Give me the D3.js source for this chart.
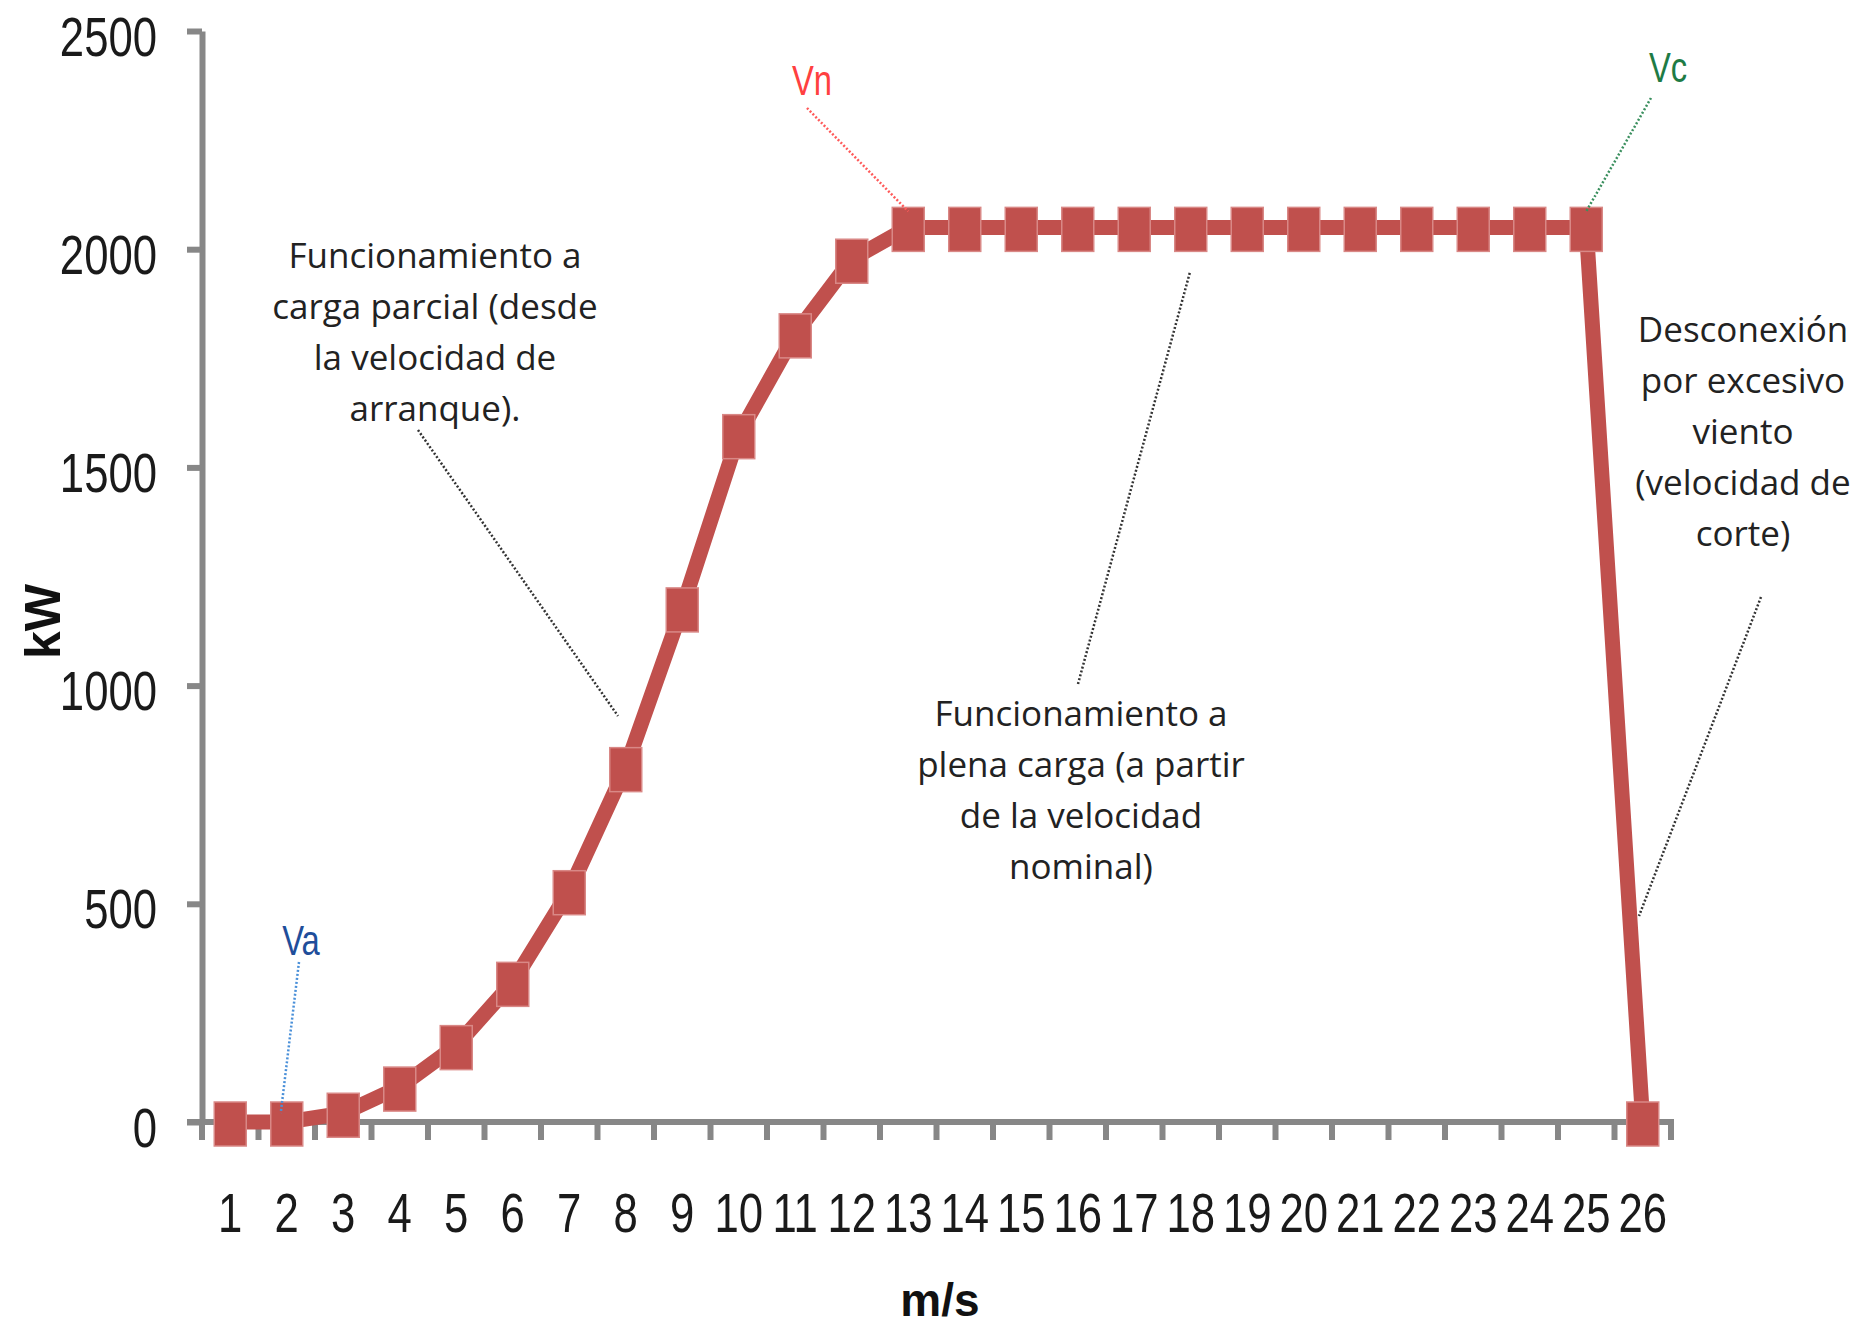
<!DOCTYPE html>
<html>
<head>
<meta charset="utf-8">
<script src="https://cdn.jsdelivr.net/npm/d3@7"></script>
<style>
  html, body { margin: 0; padding: 0; background: #fff; }
  svg { display: block; }
</style>
</head>
<body>
<svg id="chart" width="1872" height="1326"></svg>
<script>
// ---- data ----
const categories = ["1","2","3","4","5","6","7","8","9","10","11","12","13","14","15","16","17","18","19","20","21","22","23","24","25","26"];
const powerKW = [0,0,20,80,175,320,530,812,1178,1575,1806,1977,2050,2050,2050,2050,2050,2050,2050,2050,2050,2050,2050,2050,2050,0];
const yTicks = [0,500,1000,1500,2000,2500];
const xTitle = "m/s";
const yTitle = "kW";
const markerLabels = [
  {text:"Va", cat:"2", value:0, color:"#1f4e9a", lead:"#4a90d9"},
  {text:"Vn", cat:"13", value:2050, color:"#ff4040", lead:"#ff5a5a"},
  {text:"Vc", cat:"25", value:2050, color:"#1e7b45", lead:"#3a8f5e"}
];
const notes = [
  {lines:["Funcionamiento a","carga parcial (desde","la velocidad de","arranque)."]},
  {lines:["Funcionamiento a","plena carga (a partir","de la velocidad","nominal)"]},
  {lines:["Desconexión","por excesivo","viento","(velocidad de","corte)"]}
];

(function(){
// ---- layout ----
const svg = d3.select("#chart");
const pLeft = 202, pRight = 1671, pTop = 31, pBottom = 1122;
const x = d3.scaleBand().domain(categories).range([pLeft, pRight]).padding(0);
const y = d3.scaleLinear().domain([0, 2500]).range([pBottom, pTop]);
const axisColor = "#878787";
const lineColor = "#c0504d";
const sx = 0.78;

// y axis
const gy = svg.append("g").attr("transform", `translate(${pLeft},0)`)
  .call(d3.axisLeft(y).tickValues(yTicks).tickFormat(d3.format("d"))
    .tickSizeInner(15).tickSizeOuter(0).tickPadding(0));
gy.select(".domain").attr("stroke", axisColor).attr("stroke-width", 6);
gy.selectAll(".tick line").attr("stroke", axisColor).attr("stroke-width", 6);
gy.selectAll(".tick text")
  .attr("fill", "#1a1a1a")
  .style("font-family", "'Liberation Sans', Arial, sans-serif")
  .style("font-size", "56px")
  .attr("text-anchor", "end")
  .attr("dy", null)
  .attr("x", -45 / sx)
  .attr("y", 24)
  .attr("transform", `scale(${sx},1)`);

// x axis (labels at band centres)
const gx = svg.append("g").attr("transform", `translate(0,${pBottom})`)
  .call(d3.axisBottom(x).tickSizeInner(0).tickSizeOuter(0).tickPadding(0));
gx.select(".domain").attr("stroke", axisColor).attr("stroke-width", 6)
  .attr("d", `M${pLeft - 15},0H${pRight + 3}`);
gx.selectAll(".tick line").remove();
gx.selectAll(".tick").each(function(d){
  const g = d3.select(this);
  const tx = x(d) + x.bandwidth()/2;
  g.attr("transform", null);
  g.select("text")
    .attr("fill", "#1a1a1a")
    .style("font-family", "'Liberation Sans', Arial, sans-serif")
    .style("font-size", "56px")
    .attr("dy", null)
    .attr("x", tx / sx)
    .attr("y", 110)
    .attr("transform", `scale(${sx},1)`);
});
// boundary ticks
const bounds = categories.map(c => x(c)).concat([x.range()[1]]);
svg.append("g").selectAll("line").data(bounds).join("line")
  .attr("x1", d => d).attr("x2", d => d)
  .attr("y1", pBottom).attr("y2", pBottom + 18)
  .attr("stroke", axisColor).attr("stroke-width", 6);

// axis titles
svg.append("text").text(yTitle)
  .attr("transform", `translate(60,${(pTop + pBottom) / 2 + 45}) rotate(-90)`)
  .attr("text-anchor", "middle")
  .style("font-family", "'Liberation Sans', Arial, sans-serif")
  .style("font-weight", "bold").style("font-size", "50px").attr("fill", "#111");
svg.append("text").text(xTitle)
  .attr("x", 940).attr("y", 1316)
  .attr("text-anchor", "middle")
  .style("font-family", "'Liberation Sans', Arial, sans-serif")
  .style("font-weight", "bold").style("font-size", "46px").attr("fill", "#111");

// series
const cx = c => x(c) + x.bandwidth() / 2;
const pts = categories.map((c, i) => [cx(c), y(powerKW[i])]);
svg.append("path").datum(pts)
  .attr("d", d3.line())
  .attr("fill", "none").attr("stroke", lineColor).attr("stroke-width", 15)
  .attr("stroke-linejoin", "miter");
svg.append("g").selectAll("rect").data(pts).join("rect")
  .attr("x", d => d[0] - 16).attr("y", d => d[1] - 20)
  .attr("width", 32).attr("height", 44)
  .attr("fill", lineColor).attr("stroke", "#d98886").attr("stroke-width", 1.5);

// leader lines
function leader(x1, y1, x2, y2, color) {
  svg.append("line").attr("x1", x1).attr("y1", y1).attr("x2", x2).attr("y2", y2)
    .attr("stroke", color).attr("stroke-width", 2.5).attr("stroke-dasharray", "2,2");
}
// Va, Vn, Vc labels
const labelPos = [
  {dx: 301 , ty: 955, from:[299, 962]},
  {dx: 812 , ty: 95,  from:[807, 108]},
  {dx: 1668, ty: 82,  from:[1651, 98]}
];
markerLabels.forEach((m, i) => {
  const p = labelPos[i];
  const tx = cx(m.cat), ty = y(m.value);
  leader(p.from[0], p.from[1], i === 0 ? tx - 6 : tx, ty - (i === 0 ? 9 : 16), m.lead);
  svg.append("text").text(m.text)
    .attr("x", p.dx / sx).attr("y", p.ty)
    .attr("transform", `scale(${sx},1)`)
    .attr("text-anchor", "middle")
    .style("font-family", "'Liberation Sans', Arial, sans-serif")
    .style("font-size", "42px").attr("fill", m.color);
});

// notes
const notePos = [
  {cx: 435, y0: 268, gap: 51, lead:[418, 430, 618, 716]},
  {cx: 1081, y0: 726, gap: 51, lead:[1078, 684, 1190, 272]},
  {cx: 1743, y0: 342, gap: 51, lead:[1761, 597, 1639, 916]}
];
notes.forEach((n, i) => {
  const p = notePos[i];
  const t = svg.append("text")
    .attr("text-anchor", "middle")
    .style("font-family", "'Open Sans', sans-serif")
    .style("font-size", "35px").attr("fill", "#222");
  n.lines.forEach((l, j) => {
    t.append("tspan").attr("x", p.cx).attr("y", p.y0 + j * p.gap).text(l);
  });
  leader(p.lead[0], p.lead[1], p.lead[2], p.lead[3], "#333");
});
})();
</script>
</body>
</html>
